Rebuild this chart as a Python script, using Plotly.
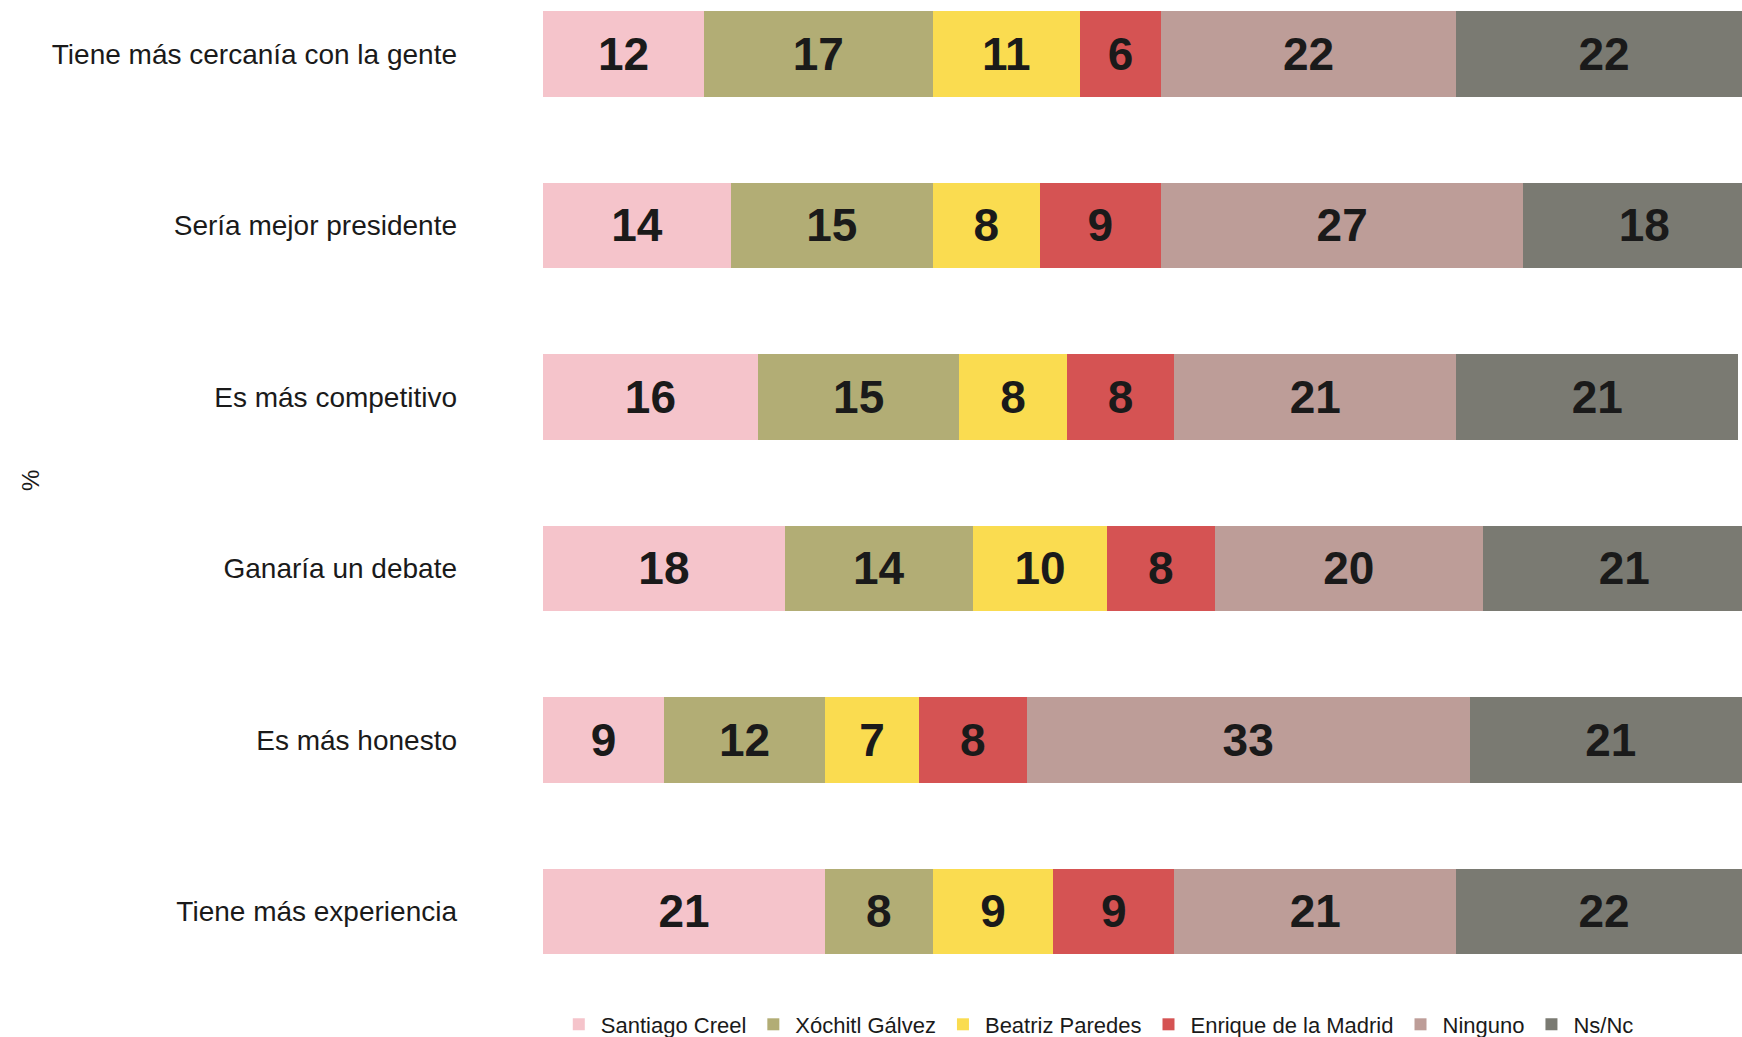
import plotly.graph_objects as go

categories = [
    "Tiene más cercanía con la gente",
    "Sería mejor presidente",
    "Es más competitivo",
    "Ganaría un debate",
    "Es más honesto",
    "Tiene más experiencia",
]

series_names = ["Santiago Creel", "Xóchitl Gálvez", "Beatriz Paredes",
                "Enrique de la Madrid", "Ninguno", "Ns/Nc"]

santiago = [12, 14, 16, 18, 9, 21]
xochitl = [17, 15, 15, 14, 12, 8]
beatriz = [11, 8, 8, 10, 7, 9]
enrique = [6, 9, 8, 8, 8, 9]
ninguno = [22, 27, 21, 20, 33, 21]
nsnc = [22, 18, 21, 21, 21, 22]

series_values = [santiago, xochitl, beatriz, enrique, ninguno, nsnc]
colors = ["#F5C4CB", "#B2AD75", "#FADC50", "#D55353", "#BD9D98", "#7A7A72"]

fig = go.Figure()
for name, vals, col in zip(series_names, series_values, colors):
    fig.add_trace(go.Bar(
        y=categories, x=vals, name=name, orientation="h",
        marker=dict(color=col, line=dict(width=0)),
        width=0.5,
        text=[str(v) for v in vals],
        textposition="inside", insidetextanchor="middle",
        textfont=dict(family="Liberation Sans, Arial, sans-serif", size=46,
                      color="#1a1a1a", weight="bold"),
        textangle=0,
        cliponaxis=True,
        hoverinfo="skip",
    ))

fig.update_layout(
    barmode="stack",
    width=1742, height=1037,
    margin=dict(l=543, r=0, t=0, b=37, autoexpand=False),
    paper_bgcolor="white", plot_bgcolor="white",
    font=dict(family="Liberation Sans, Arial, sans-serif", color="#1a1a1a"),
    showlegend=True,
    legend=dict(orientation="h", x=0.0115, xanchor="left", y=-0.0245,
                yanchor="middle", font=dict(size=22), traceorder="normal",
                itemwidth=34, bgcolor="rgba(0,0,0,0)"),
    xaxis=dict(range=[0, 89.27], showticklabels=False, showgrid=False,
               zeroline=False, showline=False, ticks=""),
    yaxis=dict(categoryorder="array", categoryarray=categories,
               range=[5.5165, -0.3145], showgrid=False, zeroline=False,
               showline=False, ticks="", ticklabelstandoff=85,
               tickfont=dict(size=28, color="#1a1a1a")),
    annotations=[dict(text="%", xref="paper", yref="paper",
                      x=(30 - 543) / 1199, y=0.519, xanchor="center",
                      yanchor="middle", showarrow=False,
                      textangle=-90, font=dict(size=24, color="#1a1a1a"))],
)

fig.write_html(
    "out.html",
    config={"displayModeBar": False},
    post_script="document.body.style.margin='0';document.body.style.overflow='hidden';",
)
